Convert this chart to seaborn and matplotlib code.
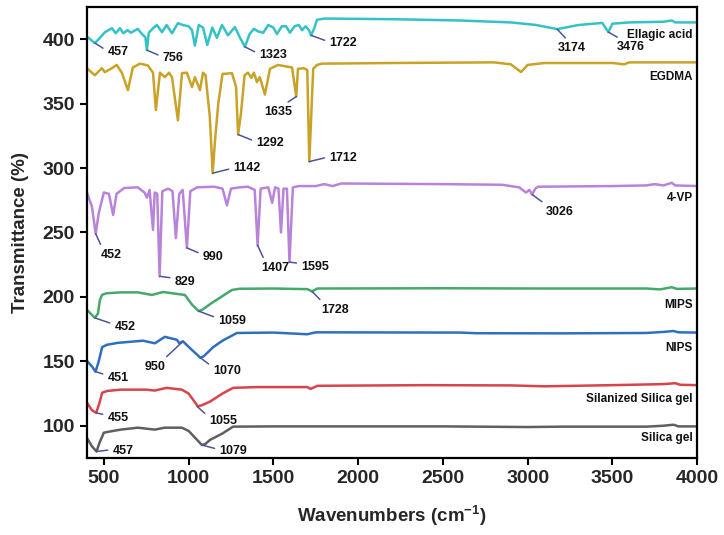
import matplotlib
matplotlib.use("Agg")
import matplotlib.pyplot as plt
import seaborn as sns
import pandas as pd

# ---------------- data (key points) ----------------
ellagic_wn = [400, 447, 470, 506, 548, 570, 595, 615, 640, 660, 700, 725, 745, 754, 765,
              790, 813, 843, 870, 902, 937, 965, 1000, 1020, 1037, 1060, 1085, 1110, 1140,
              1167, 1197, 1232, 1273, 1300, 1332, 1360, 1385, 1410, 1440, 1470, 1500, 1521,
              1550, 1575, 1598, 1625, 1650, 1669, 1690, 1710, 1722, 1740, 1757, 1800, 2200,
              2600, 2900, 3050, 3174, 3300, 3440, 3476, 3500, 3600, 3800, 3850, 3870, 4000]
ellagic_t = [402, 397, 400, 405.4, 408.5, 404.6, 408.5, 404.6, 407, 405, 408, 404, 401.5, 391.5, 405,
             408.5, 411, 405.4, 411, 404.6, 412.4, 411, 410, 407, 395, 411, 409, 395.5, 409,
             401, 411, 403, 409.4, 402, 394, 404, 408, 406, 405, 411, 409, 404,
             410, 410, 405, 410, 411, 407, 410, 407, 403, 408, 415, 416, 415.5,
             414.5, 413, 411, 407.8, 411, 412.6, 405.5, 412, 413, 413.5, 414.5, 413, 413]

egdma_wn = [400, 447, 488, 506, 548, 576, 606, 642, 671, 713, 760, 790, 807, 831, 860, 885,
            902, 937, 961, 990, 1020, 1037, 1067, 1085, 1100, 1125, 1142, 1155, 1175, 1200,
            1256, 1280, 1292, 1309, 1330, 1350, 1370, 1385, 1403, 1420, 1450, 1480, 1527,
            1610, 1635, 1645, 1680, 1700, 1712, 1735, 1757, 1787, 2200, 2800, 2900, 2961,
            3000, 3100, 3500, 3570, 3600, 4000]
egdma_t = [377.5, 372, 377.5, 374.4, 377.5, 380, 374, 360.5, 378, 381, 379.6, 374, 345, 374, 370.5, 374,
           370.5, 337, 373.6, 374, 362.8, 370.5, 360.5, 374, 372, 340, 296, 320, 350, 373,
           373.6, 362.8, 326, 342.6, 372, 374, 370, 374, 366.7, 370.5, 357, 377, 380,
           378, 355.5, 377, 377.5, 376, 305, 377, 380, 381, 381.5, 382, 380.5, 374.5,
           380, 381.5, 381.5, 380.5, 382, 382]

vp_wn = [400, 430, 452, 470, 500, 530, 555, 575, 620, 700, 740, 754, 770, 790, 800, 815,
         829, 845, 880, 905, 925, 945, 965, 990, 1010, 1050, 1150, 1200, 1226, 1250, 1300,
         1350, 1390, 1407, 1425, 1470, 1493, 1510, 1530, 1545, 1560, 1580, 1595, 1615, 1650,
         1750, 1800, 1850, 1900, 2500, 2850, 2950, 2990, 3010, 3026, 3045, 3060, 3500,
         3700, 3750, 3800, 3850, 3870, 4000]
vp_t = [281, 270, 249, 265, 281, 280, 263.6, 280, 284.5, 285, 281, 277, 283, 252, 281, 280,
        216, 282, 284, 282, 245.7, 280, 283, 238, 282, 285, 285.5, 284, 271, 284, 285,
        285.5, 283, 240, 284, 285, 273, 285, 284, 250, 284, 284, 227, 285, 286,
        286, 287.5, 286, 288, 287.5, 287, 285, 281, 283, 279.5, 284, 285.5, 286,
        286.5, 287.5, 286.5, 288.5, 286.5, 286]

mips_wn = [400, 447, 465, 477, 490, 515, 600, 700, 784, 849, 920, 978, 1020, 1059, 1080,
           1138, 1256, 1300, 1500, 1700, 1728, 1760, 2500, 3100, 3700, 3780, 3850, 3880, 4000]
mips_t = [190, 183.7, 187, 197.7, 201.6, 202.8, 203.5, 203.5, 201.5, 203.8, 202.5, 201.5, 194, 189, 190,
          195.4, 205.4, 206.3, 206.5, 206, 204.3, 206.5, 206.7, 206.5, 206.5, 205.8, 207.5, 206.2, 206.5]

nips_wn = [400, 430, 451, 470, 490, 518, 580, 731, 801, 860, 931, 945, 967, 1010, 1070,
           1090, 1145, 1200, 1285, 1500, 1700, 1750, 2600, 2700, 3200, 3700, 3800, 3860, 3890, 4000]
nips_t = [150.4, 146, 142, 150, 161, 162.8, 164.3, 166, 164, 169, 166.7, 164, 165.5, 160, 152.7,
          154, 161, 166, 172, 172.3, 171, 172.5, 172.3, 171.8, 171.7, 172, 172.8, 173.5, 172.5, 172.3]

silan_wn = [400, 430, 455, 475, 490, 520, 600, 750, 800, 870, 960, 1000, 1055, 1080, 1126,
            1200, 1262, 1400, 1700, 1720, 1760, 2400, 2900, 3100, 3500, 3800, 3870, 3900, 4000]
silan_t = [118, 112, 110, 118, 125.6, 127, 128, 128, 127.3, 129.4, 128, 125, 115, 116, 118.7,
           125, 129.4, 130, 130, 128.6, 131, 131.5, 131.3, 130.6, 131.5, 132.3, 133, 131.8, 131.5]

silica_wn = [400, 430, 457, 475, 500, 530, 600, 700, 800, 860, 960, 1000, 1079, 1100, 1126,
             1200, 1262, 1500, 2500, 3000, 3200, 3700, 3800, 3860, 3890, 4000]
silica_t = [90.6, 84, 80, 87, 94.6, 95.4, 97, 98.5, 97, 98.5, 98.5, 96, 85, 86, 89,
            94, 99.3, 99.5, 99.5, 99, 99.3, 99.3, 100, 100.8, 99.5, 99.5]

series_names = ["Ellagic acid", "EGDMA", "4-VP", "MIPS", "NIPS", "Silanized Silica gel", "Silica gel"]
series_wn = [ellagic_wn, egdma_wn, vp_wn, mips_wn, nips_wn, silan_wn, silica_wn]
series_t = [ellagic_t, egdma_t, vp_t, mips_t, nips_t, silan_t, silica_t]
series_colors = ["#35C2C6", "#C9A227", "#B883D8", "#45A96B", "#2F6FC0", "#D9444B", "#5F5F5F"]

# name label positions (transmittance) at right edge
name_label_t = [403.5, 370.5, 276.7, 193.8, 160.5, 121, 90.7]

# peak annotations: label, peak wn, peak T, text wn, text T, relpos
ann_labels = ["457", "756", "1323", "1722", "3174", "3476",
              "1142", "1292", "1635", "1712",
              "452", "829", "990", "1407", "1595", "3026",
              "452", "1059", "1728",
              "451", "950", "1070",
              "455", "1055",
              "457", "1079"]
ann_peak_wn = [447, 754, 1332, 1722, 3174, 3476,
               1142, 1292, 1635, 1712,
               452, 829, 990, 1407, 1595, 3026,
               447, 1059, 1728,
               451, 967, 1070,
               455, 1050,
               457, 1079]
ann_peak_t = [397, 391.5, 394, 403, 407.8, 405.5,
              296, 326, 355.5, 305,
              249, 216, 238, 240, 227, 279.5,
              183.7, 189, 204.3,
              142, 165.5, 152.7,
              110, 115,
              80, 85]
ann_text_wn = [583, 908, 1498, 1911, 3262, 3610,
               1344, 1480, 1527, 1911,
               542, 978, 1144, 1510, 1746, 3191,
               624, 1256, 1864,
               583, 801, 1226,
               583, 1203,
               612, 1262]
ann_text_t = [389.9, 385.3, 387.6, 396.9, 393, 393.8,
              300, 319.4, 343.4, 307.8,
              232.6, 211.6, 231, 222.5, 223, 266,
              176.7, 181.4, 190,
              137.2, 145.7, 142.6,
              106.2, 103.9,
              80.6, 80.6]
ann_relpos = [(0, 0.6), (0, 0.6), (0, 0.6), (0, 0.6), (0.4, 1), (0.25, 1),
              (0, 0.5), (0, 0.6), (0.65, 1), (0, 0.6),
              (0.1, 1), (0, 0.8), (0, 0.7), (0.15, 1), (0, 0.8), (0.05, 1),
              (0, 0.7), (0, 0.7), (0.1, 1),
              (0, 0.7), (0.85, 1), (0, 0.8),
              (0, 0.7), (0, 0.8),
              (0, 0.6), (0, 0.6)]

# ---------------- plotting ----------------
sns.set_theme(style="ticks")
plt.rcParams["font.family"] = ["Liberation Sans", "DejaVu Sans"]
plt.rcParams["mathtext.fontset"] = "custom"
plt.rcParams["mathtext.rm"] = "Liberation Sans"
plt.rcParams["mathtext.bf"] = "Liberation Sans:bold"

fig = plt.figure(figsize=(7.24, 5.35), dpi=100)
ax = fig.add_axes([0.120, 0.144, 0.843, 0.843])

for name, wn, t, c in zip(series_names, series_wn, series_t, series_colors):
    df = pd.DataFrame({"wn": wn, "T": t})
    sns.lineplot(data=df, x="wn", y="T", ax=ax, color=c, lw=1.8, sort=False, estimator=None)

for name, ty in zip(series_names, name_label_t):
    ax.text(3975, ty, name, ha="right", va="center", fontsize=8.5, fontweight="bold", color="#111111")

for lab, pw, pt, tw, tt, rp in zip(ann_labels, ann_peak_wn, ann_peak_t, ann_text_wn, ann_text_t, ann_relpos):
    ax.annotate(lab, xy=(pw, pt), xytext=(tw, tt), ha="center", va="center",
                fontsize=9, fontweight="bold", color="#111111",
                arrowprops=dict(arrowstyle="-", color="#4A5698", lw=1.1,
                                shrinkA=1, shrinkB=0, relpos=rp))

ax.set_xlim(400, 4000)
ax.set_ylim(75, 425)
ax.set_xticks([500, 1000, 1500, 2000, 2500, 3000, 3500, 4000])
ax.set_yticks([100, 150, 200, 250, 300, 350, 400])
ax.tick_params(axis="both", labelsize=14, width=1.5, length=5, color="black")
for lbl in ax.get_xticklabels() + ax.get_yticklabels():
    lbl.set_fontweight("bold")
for sp in ax.spines.values():
    sp.set_linewidth(1.6)
    sp.set_color("black")

ax.set_xlabel("Wavenumbers (cm$^{\\mathbf{-1}}$)", fontsize=13.5, fontweight="bold", labelpad=12)
ax.set_ylabel("Transmittance (%)", fontsize=13.5, fontweight="bold", labelpad=10)

fig.savefig("out.png", dpi=100)
